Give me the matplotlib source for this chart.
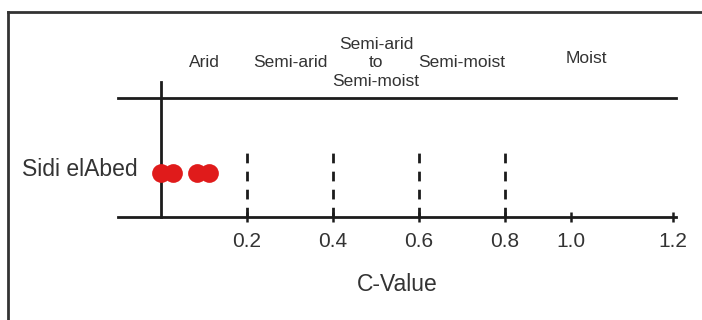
import numpy as np
import matplotlib
matplotlib.use("Agg")
import matplotlib.pyplot as plt
from matplotlib.lines import Line2D

plt.rcParams['font.family'] = ['Liberation Sans', 'DejaVu Sans']

# Data
site = "Sidi elAbed"
c_values = [0.0, 0.028, 0.084, 0.112]
thresholds = [0.2, 0.4, 0.6, 0.8]
tick_values = [0.2, 0.4, 0.6, 0.8, 1.0, 1.2]
tick_labels = ["0.2", "0.4", "0.6", "0.8", "1.0", "1.2"]
classes = ["Arid", "Semi-arid", "Semi-arid\nto\nSemi-moist", "Semi-moist", "Moist"]
class_pos = [0.1, 0.3, 0.5, 0.7, 1.03]

# piecewise axis as drawn in the original figure
_src = [-1.0, 0.8, 1.0, 1.2, 2.0]
_dst = [-1.0, 0.8, 0.9535, 1.1907, 2.14]
def fwd(x):
    return np.interp(x, _src, _dst)
def inv(x):
    return np.interp(x, _dst, _src)

W, H = 702, 320
fig = plt.figure(figsize=(W/100, H/100), dpi=100)
ax = fig.add_axes([118/W, (H-217)/H, (675.5-118)/W, (217-80)/H])
ax.set_xscale('function', functions=(fwd, inv))
ax.set_xlim(-0.1, 1.205)
ax.set_ylim(0, 1)

lc = '#1c1c1c'
tc = '#333333'
for s in ['top', 'right', 'left']:
    ax.spines[s].set_visible(False)
ax.spines['bottom'].set_linewidth(2)
ax.spines['bottom'].set_color(lc)
ax.set_yticks([])
ax.set_xticks(tick_values)
ax.set_xticklabels(tick_labels, fontsize=15, color=tc)
ax.tick_params(axis='x', direction='inout', length=7, width=1.8, color=lc, pad=7)
ax.set_xlabel("C-Value", fontsize=16.5, color=tc, labelpad=16)

# top horizontal line and vertical line at zero
ax.plot([-0.1, 1.205], [0.869, 0.869], color=lc, lw=2, clip_on=False)
ax.plot([0, 0], [0, 0.985], color=lc, lw=2, clip_on=False)

# dashed thresholds
for t in thresholds:
    ax.plot([t, t], [0, 0.49], color=lc, lw=2, ls=(0, (3.5, 3)), clip_on=False)

# points
ax.plot(c_values, [0.32]*len(c_values), 'o', color='#e01b1b', markersize=13.5,
        markeredgewidth=0, clip_on=False, zorder=5)

# site label
ax.text(-0.054, 0.345, site, ha='right', va='center', fontsize=16.5, color=tc, clip_on=False)

# class labels
for lab, x in zip(classes, class_pos):
    y = 1.16 if lab == "Moist" else 1.125
    ax.text(x, y, lab, ha='center', va='center', fontsize=12.5, color=tc,
            linespacing=1.3, clip_on=False)

# frame
fig.add_artist(Line2D([8/W, 1], [1-12/H, 1-12/H], transform=fig.transFigure, color='#333333', lw=2))
fig.add_artist(Line2D([8/W, 8/W], [0, 1-12/H], transform=fig.transFigure, color='#333333', lw=2))

fig.savefig("out.png", dpi=100)
